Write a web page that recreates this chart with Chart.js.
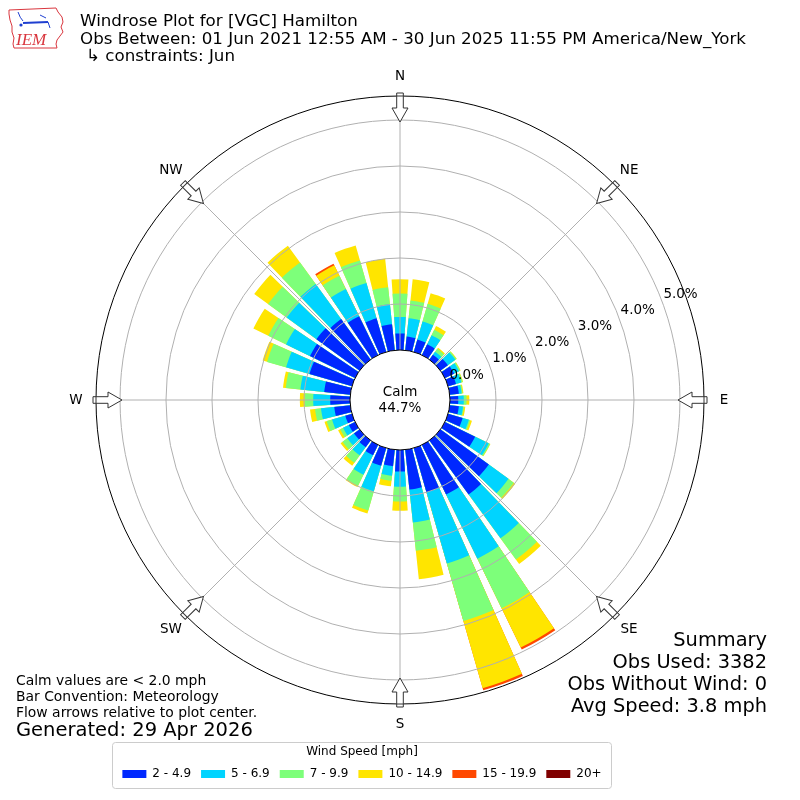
<!DOCTYPE html>
<html>
<head>
<meta charset="utf-8">
<script src="https://cdn.jsdelivr.net/npm/chart.js@4.4.1/dist/chart.umd.min.js"></script>
<style>
  html, body { margin: 0; padding: 0; background: #fff; }
</style>
</head>
<body>
<canvas id="rose" width="800" height="800"></canvas>
<script>
// direction bins (deg, meteorological), 10 deg wide
var directions = [0, 10, 20, 30, 40, 50, 60, 70, 80, 90, 100, 110, 120, 130, 140, 150, 160, 170,
                  180, 190, 200, 210, 220, 230, 240, 250, 260, 270, 280, 290, 300, 310, 320, 330, 340, 350];
var speedBins = ["2 - 4.9", "5 - 6.9", "7 - 9.9", "10 - 14.9", "15 - 19.9", "20+"];
var binColors = ["#0028ff", "#00d4ff", "#7dff7a", "#ffe500", "#ff4800", "#800000"];

// percent of obs per direction, one array per speed bin
var freq2to5   = [0.36, 0.30, 0.28, 0.26, 0.13, 0.20, 0.22, 0.18, 0.20, 0.18, 0.20, 0.33, 0.73, 1.30, 1.45, 1.20, 1.00, 0.87,
                  0.47, 0.36, 0.40, 0.25, 0.18, 0.15, 0.15, 0.15, 0.35, 0.43, 0.57, 0.96, 1.09, 1.16, 1.09, 0.94, 0.76, 0.57];
var freq5to7   = [0.36, 0.40, 0.41, 0.22, 0.08, 0.20, 0.12, 0.12, 0.06, 0.12, 0.09, 0.14, 0.33, 0.53, 1.18, 1.55, 1.61, 0.72,
                  0.33, 0.21, 0.58, 0.47, 0.22, 0.18, 0.14, 0.30, 0.29, 0.37, 0.52, 0.53, 0.58, 0.80, 0.94, 0.66, 0.80, 0.44];
var freq7to10  = [0.51, 0.39, 0.40, 0.13, 0.08, 0.03, 0.03, 0.03, 0.02, 0.06, 0.02, 0.03, 0.03, 0.14, 0.57, 1.20, 1.30, 0.62,
                  0.32, 0.11, 0.43, 0.27, 0.20, 0.13, 0.07, 0.12, 0.13, 0.18, 0.32, 0.43, 0.43, 0.50, 0.58, 0.32, 0.51, 0.37];
var freq10to15 = [0.31, 0.46, 0.24, 0.09, 0.03, 0.01, 0.01, 0.01, 0.02, 0.06, 0.03, 0.04, 0.01, 0.04, 0.12, 0.95, 1.52, 0.62,
                  0.20, 0.12, 0.07, 0.03, 0.08, 0.05, 0.05, 0.05, 0.11, 0.11, 0.06, 0.10, 0.36, 0.37, 0.45, 0.25, 0.34, 0.62];
var freq15to20 = [0, 0, 0, 0, 0, 0, 0, 0, 0, 0, 0, 0, 0, 0, 0, 0.05, 0.05, 0,
                  0, 0, 0, 0, 0, 0, 0, 0, 0, 0, 0, 0, 0, 0, 0, 0.04, 0, 0];
var freq20up   = [0, 0, 0, 0, 0, 0, 0, 0, 0, 0, 0, 0, 0, 0, 0, 0, 0, 0,
                  0, 0, 0, 0, 0, 0, 0, 0, 0, 0, 0, 0, 0, 0, 0, 0, 0, 0];

var ringTicks = [0, 1, 2, 3, 4, 5];
var compassLabels = ["N", "NE", "E", "SE", "S", "SW", "W", "NW"];
var calmPct = 44.7;
var RMIN = -1.087, RMAX = 5.522;

var binSeries = [freq2to5, freq5to7, freq7to10, freq10to15, freq15to20, freq20up];

// each direction is a bar element followed by an empty gap element
var labels = [];
directions.forEach(function (d) { labels.push(d + "°"); labels.push(""); });

var running = directions.map(function () { return 0; });
var datasets = binSeries.map(function (series, k) {
  running = running.map(function (v, i) { return v + series[i]; });
  var data = [];
  running.forEach(function (v, i) {
    data.push(series[i] > 0 ? v : 0);
    data.push(0);
  });
  return {
    label: speedBins[k],
    data: data,
    backgroundColor: function (c) { return c.dataIndex % 2 ? "rgba(0,0,0,0)" : binColors[k]; },
    borderWidth: 0,
    angle: function (c) { return c.dataIndex % 2 ? 2 : 8; }
  };
});

function textAt(ctx, str, x, y, font, align) {
  ctx.font = font;
  ctx.textAlign = align || "left";
  ctx.fillText(str, x, y);
}

function drawArrow(ctx, cx, cy, ang, rRing, rTail, rBase, rTip) {
  ctx.save();
  ctx.translate(cx, cy);
  ctx.rotate(ang);
  ctx.beginPath();
  ctx.moveTo(-3.3, -rTail);
  ctx.lineTo(3.3, -rTail);
  ctx.lineTo(3.3, -rBase);
  ctx.lineTo(8, -rBase);
  ctx.lineTo(0, -rTip);
  ctx.lineTo(-8, -rBase);
  ctx.lineTo(-3.3, -rBase);
  ctx.closePath();
  ctx.fillStyle = "#fff";
  ctx.fill();
  ctx.strokeStyle = "#333";
  ctx.lineWidth = 1;
  ctx.stroke();
  ctx.beginPath();
  ctx.moveTo(-3.3, -rRing);
  ctx.lineTo(3.3, -rRing);
  ctx.stroke();
  ctx.restore();
}

function drawLogo(ctx) {
  ctx.save();
  ctx.strokeStyle = "#d9363e";
  ctx.lineWidth = 1;
  var pts = [[9,10],[56,8],[58,12],[62,17],[63,22],[61,27],[63,32],[60,36],[57,40],[56,44],[57,48],
             [14,48],[13,44],[14,38],[12,32],[12,26],[10,20],[9,14]];
  ctx.beginPath();
  pts.forEach(function (p, i) { if (i) ctx.lineTo(p[0], p[1]); else ctx.moveTo(p[0], p[1]); });
  ctx.closePath();
  ctx.stroke();
  ctx.strokeStyle = "#1f3fd0";
  ctx.fillStyle = "#1f3fd0";
  ctx.lineWidth = 2;
  ctx.beginPath(); ctx.moveTo(23, 23); ctx.lineTo(48, 22); ctx.stroke();
  ctx.lineWidth = 1;
  ctx.beginPath(); ctx.moveTo(18, 12); ctx.quadraticCurveTo(20, 18, 23, 21); ctx.stroke();
  ctx.beginPath(); ctx.moveTo(40, 15); ctx.lineTo(46, 18); ctx.stroke();
  ctx.beginPath(); ctx.moveTo(48, 22); ctx.lineTo(50, 28); ctx.stroke();
  ctx.beginPath(); ctx.arc(21, 25, 1.6, 0, Math.PI * 2); ctx.fill();
  ctx.fillStyle = "#d9363e";
  textAt(ctx, "IEM", 16, 45, "italic 17px 'Liberation Serif'", "left");
  ctx.restore();
}

var roseDecor = {
  id: "roseDecor",
  beforeDraw: function (chart) {
    chart.legend.left = 112;
    chart.legend.right = 612;
  },
  afterDatasetsDraw: function (chart) {
    var s = chart.scales.r, ctx = chart.ctx;
    var r0 = s.getDistanceFromCenterForValue(0);
    var rOut = s.getDistanceFromCenterForValue(RMAX);
    ctx.save();
    ctx.strokeStyle = "#b0b0b0";
    ctx.lineWidth = 1;
    for (var k = 0; k < 8; k++) {
      var a = k * Math.PI / 4;
      ctx.beginPath();
      ctx.moveTo(s.xCenter + r0 * Math.sin(a), s.yCenter - r0 * Math.cos(a));
      ctx.lineTo(s.xCenter + rOut * Math.sin(a), s.yCenter - rOut * Math.cos(a));
      ctx.stroke();
    }
    ctx.fillStyle = "#fff";
    ctx.beginPath();
    ctx.arc(s.xCenter, s.yCenter, r0, 0, Math.PI * 2);
    ctx.fill();
    ctx.fillStyle = "#000";
    ctx.textBaseline = "middle";
    textAt(ctx, "Calm", s.xCenter, s.yCenter - 8, "13.5px 'DejaVu Sans'", "center");
    textAt(ctx, calmPct.toFixed(1) + "%", s.xCenter, s.yCenter + 8, "13.5px 'DejaVu Sans'", "center");
    ctx.restore();
  },
  afterDraw: function (chart) {
    var s = chart.scales.r, ctx = chart.ctx;
    var cx = s.xCenter, cy = s.yCenter;
    var rOut = s.getDistanceFromCenterForValue(RMAX);
    ctx.save();
    // flow arrows and compass labels
    ctx.textBaseline = "middle";
    for (var k = 0; k < 8; k++) {
      var a = k * Math.PI / 4;
      drawArrow(ctx, cx, cy, a, rOut, rOut + 3, rOut - 12, rOut - 26);
      ctx.fillStyle = "#000";
      textAt(ctx, compassLabels[k], cx + (rOut + 20) * Math.sin(a), cy - (rOut + 20) * Math.cos(a),
             "13.5px 'DejaVu Sans'", "center");
    }
    // ring labels
    ringTicks.forEach(function (v) {
      var r = s.getDistanceFromCenterForValue(v);
      textAt(ctx, v.toFixed(1) + "%", cx + r * 0.93 + 3, cy - r * 0.35 - 7.5, "13.5px 'DejaVu Sans'", "left");
    });
    // header
    ctx.textBaseline = "alphabetic";
    textAt(ctx, "Windrose Plot for [VGC] Hamilton", 80, 26, "16.7px 'DejaVu Sans'", "left");
    textAt(ctx, "Obs Between: 01 Jun 2021 12:55 AM - 30 Jun 2025 11:55 PM America/New_York", 80, 44, "16.7px 'DejaVu Sans'", "left");
    textAt(ctx, "\u21b3 constraints: Jun", 86, 61, "16.7px 'DejaVu Sans'", "left");
    drawLogo(ctx);
    // notes
    textAt(ctx, "Calm values are < 2.0 mph", 16, 685, "13.9px 'DejaVu Sans'", "left");
    textAt(ctx, "Bar Convention: Meteorology", 16, 701, "13.9px 'DejaVu Sans'", "left");
    textAt(ctx, "Flow arrows relative to plot center.", 16, 717, "13.9px 'DejaVu Sans'", "left");
    textAt(ctx, "Generated: 29 Apr 2026", 16, 736, "19.5px 'DejaVu Sans'", "left");
    // summary
    textAt(ctx, "Summary", 767, 646, "19.4px 'DejaVu Sans'", "right");
    textAt(ctx, "Obs Used: 3382", 767, 668, "19.4px 'DejaVu Sans'", "right");
    textAt(ctx, "Obs Without Wind: 0", 767, 690, "19.4px 'DejaVu Sans'", "right");
    textAt(ctx, "Avg Speed: 3.8 mph", 767, 712, "19.4px 'DejaVu Sans'", "right");
    // legend frame
    var lg = chart.legend;
    var x0 = lg.left + 0.5, y0 = lg.top + 0.5, x1 = lg.right - 0.5, y1 = lg.top + 46.5, rr = 3;
    ctx.strokeStyle = "#cccccc";
    ctx.lineWidth = 1;
    ctx.beginPath();
    ctx.moveTo(x0 + rr, y0);
    ctx.arcTo(x1, y0, x1, y1, rr);
    ctx.arcTo(x1, y1, x0, y1, rr);
    ctx.arcTo(x0, y1, x0, y0, rr);
    ctx.arcTo(x0, y0, x1, y0, rr);
    ctx.closePath();
    ctx.stroke();
    ctx.restore();
  }
};

Chart.defaults.font.family = "'DejaVu Sans', sans-serif";
Chart.defaults.color = "#000";

new Chart(document.getElementById("rose"), {
  type: "polarArea",
  data: { labels: labels, datasets: datasets },
  options: {
    responsive: false,
    animation: false,
    events: [],
    layout: { padding: { top: 58, bottom: 10, left: 96, right: 96 } },
    scales: {
      r: {
        min: RMIN,
        max: RMAX,
        startAngle: -4,
        afterBuildTicks: function (scale) {
          scale.ticks = ringTicks.concat([RMAX]).map(function (v) { return { value: v }; });
        },
        ticks: { display: false, z: 1 },
        pointLabels: { display: false },
        angleLines: { display: false },
        grid: {
          z: 1,
          circular: true,
          lineWidth: 1,
          color: function (c) {
            var v = c.tick ? c.tick.value : 1;
            return (v === 0 || v >= RMAX - 1e-6) ? "#000" : "#b0b0b0";
          }
        }
      }
    },
    plugins: {
      tooltip: { enabled: false },
      legend: {
        display: true,
        position: "bottom",
        align: "center",
        title: { display: true, text: "Wind Speed [mph]", font: { size: 12, lineHeight: 1 }, padding: { top: 4, bottom: 0 } },
        labels: {
          boxWidth: 24,
          boxHeight: 8,
          padding: 10,
          font: { size: 12 },
          generateLabels: function (chart) {
            return chart.data.datasets.map(function (ds, i) {
              return { text: ds.label, fillStyle: binColors[i], strokeStyle: binColors[i], lineWidth: 0, hidden: false, datasetIndex: i };
            });
          }
        }
      }
    }
  },
  plugins: [roseDecor]
});
</script>
</body>
</html>
